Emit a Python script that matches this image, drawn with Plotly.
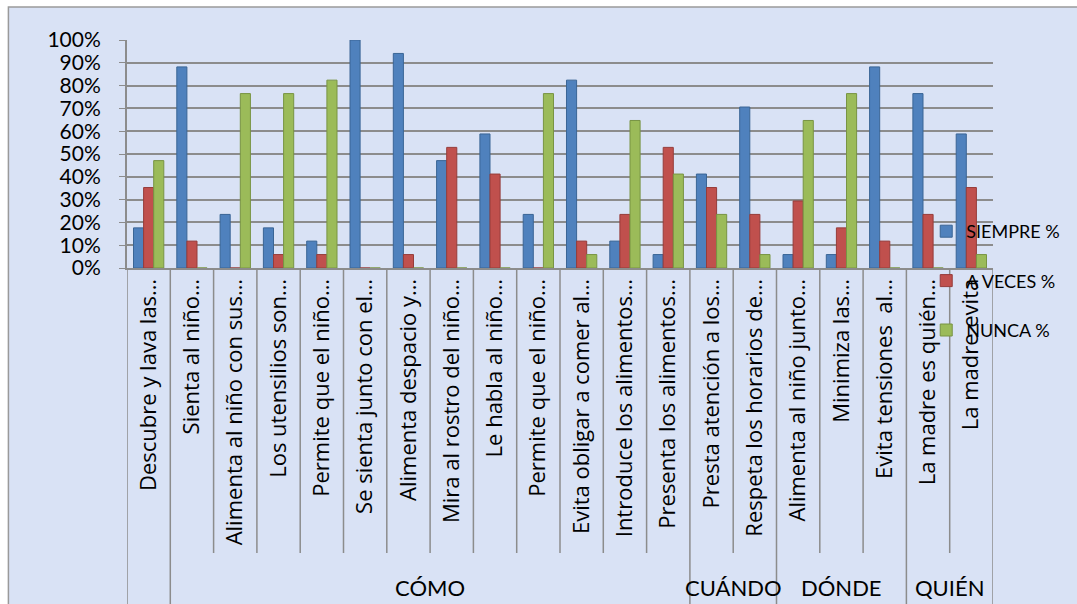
import plotly.graph_objects as go

categories = [
    "Descubre y lava las…", "Sienta al niño…", "Alimenta al niño con sus…",
    "Los utensilios son…", "Permite que el niño…", "Se sienta junto con el…",
    "Alimenta despacio y…", "Mira al rostro del niño…", "Le habla al niño…",
    "Permite que el niño…", "Evita obligar a comer al…", "Introduce los alimentos…",
    "Presenta los alimentos…", "Presta atención a los…", "Respeta los horarios de…",
    "Alimenta al niño junto…", "Minimiza las…", "Evita tensiones  al…",
    "La madre es quién…", "La madre evita",
]
groups = ["", "CÓMO", "CUÁNDO", "DÓNDE", "QUIÉN"]
group_sizes = [1, 12, 2, 3, 2]

siempre = [17.6, 88.2, 23.5, 17.6, 11.8, 100.0, 94.1, 47.1, 58.8, 23.5,
           82.4, 11.8, 5.9, 41.2, 70.6, 5.9, 5.9, 88.2, 76.5, 58.8]
a_veces = [35.3, 11.8, 0.0, 5.9, 5.9, 0.0, 5.9, 52.9, 41.2, 0.0,
           11.8, 23.5, 52.9, 35.3, 23.5, 29.4, 17.6, 11.8, 23.5, 35.3]
nunca = [47.1, 0.0, 76.5, 76.5, 82.4, 0.0, 0.0, 0.0, 0.0, 76.5,
         5.9, 64.7, 41.2, 23.5, 5.9, 64.7, 76.5, 0.0, 0.0, 5.9]

series = [("SIEMPRE %", siempre, "#4f81bd", "#3a6595"),
          ("A VECES %", a_veces, "#c0504d", "#963c3a"),
          ("NUNCA %", nunca, "#9bbb59", "#789443")]

xs = list(range(len(categories)))
fig = go.Figure()
for i, (name, vals, col, edge) in enumerate(series):
    fig.add_trace(go.Bar(
        x=xs, y=vals, name=name, legendgroup=name,
        marker=dict(color=col, line=dict(color=edge, width=1)),
    ))

FONT = "Lato, 'Noto Sans', sans-serif"
FONT2 = "'Open Sans', 'Noto Sans', sans-serif"
L, R, T, B = 127, 996, 40, 268
W, H = R - L, B - T

def px_x(p):
    return (p - L) / W

def px_y(p):
    return (B - p) / H

shapes = []
# chart area background with border
shapes.append(dict(type="rect", xref="paper", yref="paper",
                   x0=px_x(8), x1=px_x(1090), y0=px_y(620), y1=px_y(7),
                   fillcolor="#d9e2f5", line=dict(color="#9a9a9a", width=1.5),
                   layer="below"))
# category separators below axis
edges = []
pos = 0
for gs in group_sizes:
    edges.append(pos)
    pos += gs
edges.append(pos)
for k in range(len(categories) + 1):
    full = k in edges
    shapes.append(dict(type="line", xref="x", yref="paper",
                       x0=k - 0.5, x1=k - 0.5, y0=0,
                       y1=px_y(604 if full else 553),
                       line=dict(color="#8c8c8c", width=1.5)))

annotations = []
for gi, g in enumerate(groups):
    if not g:
        continue
    c = (edges[gi] + edges[gi + 1] - 1) / 2
    annotations.append(dict(text=g, x=c, xref="x", y=px_y(587), yref="paper",
                            showarrow=False, xanchor="center", yanchor="middle",
                            font=dict(family=FONT, size=22, color="black")))

fig.update_layout(
    width=1077, height=604,
    margin=dict(l=L, r=1077 - R, t=T, b=604 - B),
    paper_bgcolor="white",
    plot_bgcolor="rgba(0,0,0,0)",
    barmode="group", bargap=0.3, bargroupgap=0,
    font=dict(family=FONT, color="black"),
    shapes=shapes, annotations=annotations,
    legend=dict(x=px_x(929), y=px_y(213), xanchor="left", yanchor="top",
                bgcolor="rgba(0,0,0,0)", font=dict(family=FONT, size=18),
                traceorder="grouped", tracegroupgap=23, itemwidth=30),
    xaxis=dict(tickvals=xs, ticktext=categories, tickangle=-90,
               range=[-0.5, len(categories) - 0.5], showgrid=False,
               showline=True, linecolor="#8c8c8c", linewidth=2,
               automargin=False,
               ticks="", tickfont=dict(family=FONT2, size=22), fixedrange=True),
    yaxis=dict(range=[0, 100], dtick=10, ticksuffix="%", showgrid=True,
               gridcolor="#8c8c8c", gridwidth=2, zeroline=False,
               showline=True, linecolor="#8c8c8c", linewidth=2,
               ticks="outside", ticklen=6, tickcolor="#8c8c8c",
               ticklabelstandoff=14, automargin=False,
               tickfont=dict(family=FONT, size=21), fixedrange=True),
)

fig.write_html("out.html")
